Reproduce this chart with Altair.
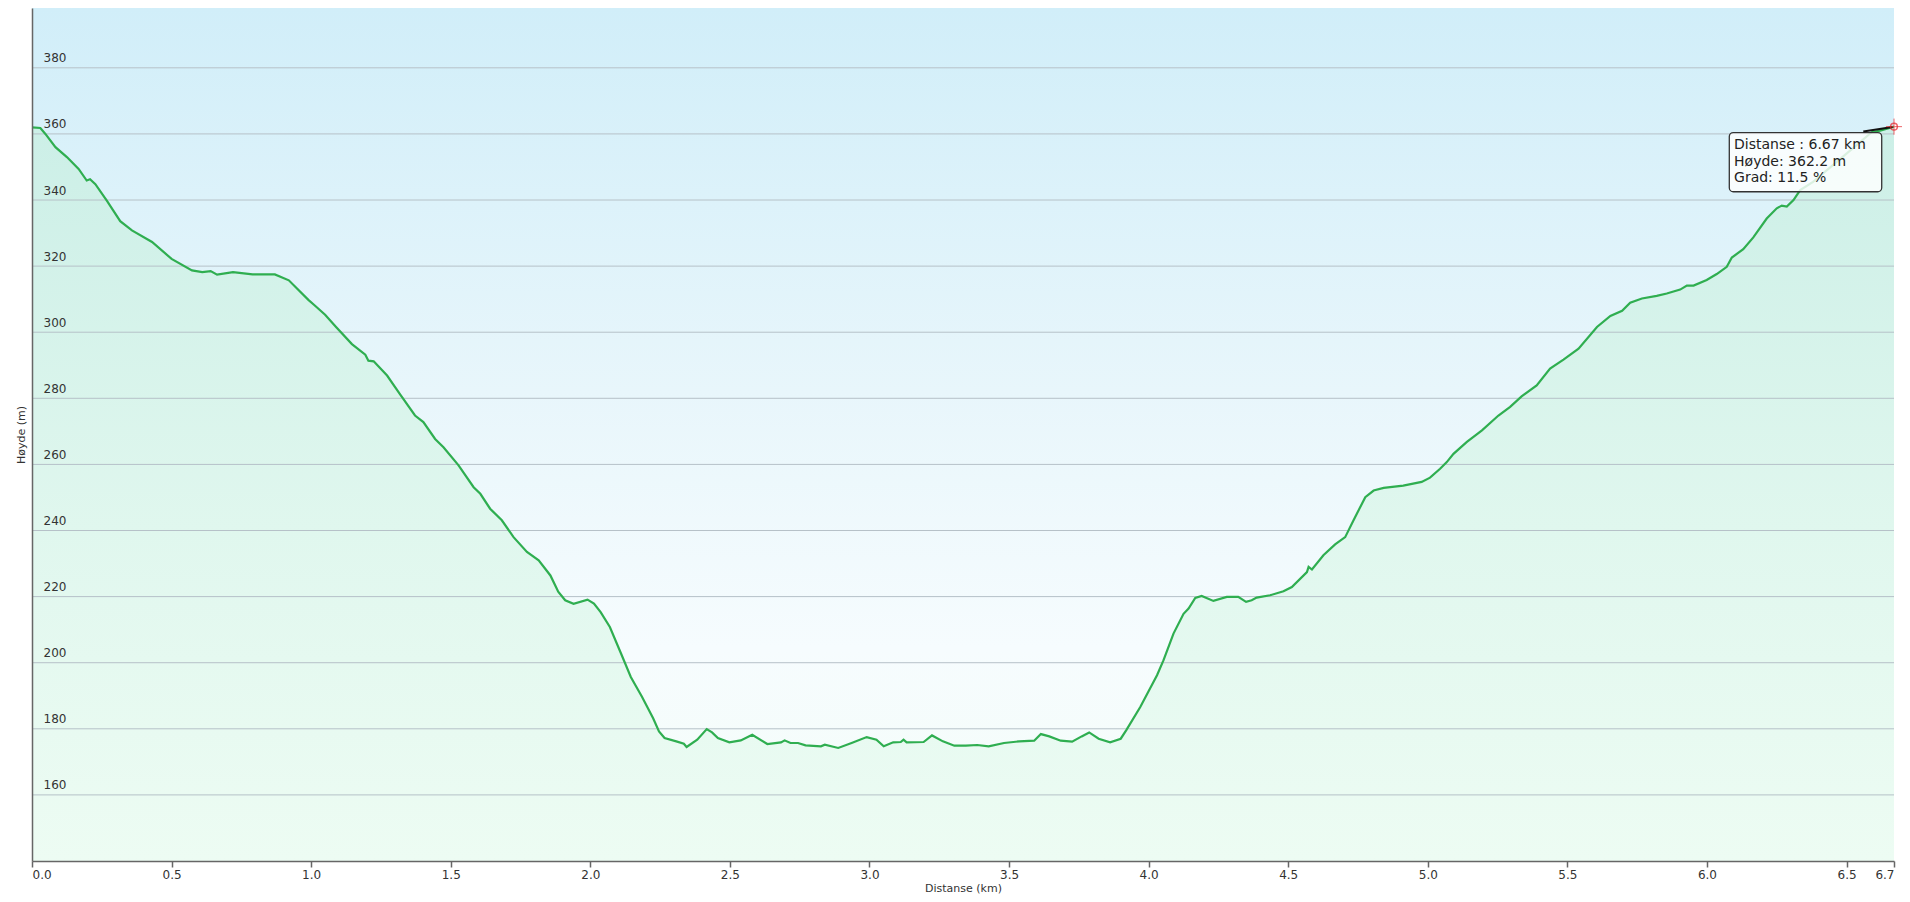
import altair as alt
import pandas as pd

# ---- data ----
distance_km = [
    0.00, 0.03, 0.048, 0.084, 0.125, 0.167, 0.196, 0.208, 0.227, 0.268, 0.316, 0.358, 0.43, 0.50,
    0.573, 0.61, 0.64, 0.663, 0.72, 0.79, 0.87, 0.92, 0.99, 1.01, 1.05, 1.09, 1.146, 1.194, 1.205,
    1.224, 1.272, 1.318, 1.372, 1.402, 1.444, 1.474, 1.528, 1.582, 1.606, 1.641, 1.683, 1.725,
    1.773, 1.815, 1.857, 1.880, 1.885, 1.91, 1.94, 1.99, 2.013, 2.037, 2.07, 2.11, 2.145, 2.185,
    2.225, 2.246, 2.266, 2.308, 2.335, 2.345, 2.383, 2.417, 2.436, 2.457, 2.498, 2.539, 2.58,
    2.634, 2.683, 2.696, 2.717, 2.744, 2.771, 2.826, 2.84, 2.888, 2.936, 2.99, 3.025, 3.051,
    3.085, 3.112, 3.122, 3.133, 3.194, 3.224, 3.263, 3.304, 3.345, 3.386, 3.427, 3.482, 3.536,
    3.59, 3.614, 3.644, 3.685, 3.726, 3.76, 3.787, 3.821, 3.862, 3.90, 3.92, 3.97, 4.03, 4.053,
    4.089, 4.125, 4.143, 4.167, 4.19, 4.232, 4.28, 4.321, 4.349, 4.369, 4.387, 4.435, 4.483,
    4.513, 4.567, 4.573, 4.585, 4.626, 4.668, 4.704, 4.734, 4.776, 4.806, 4.842, 4.912, 4.978,
    5.008, 5.044, 5.068, 5.092, 5.14, 5.194, 5.253, 5.295, 5.336, 5.39, 5.438, 5.486, 5.54,
    5.606, 5.654, 5.696, 5.725, 5.767, 5.82, 5.856, 5.904, 5.928, 5.952, 5.999, 6.035, 6.071,
    6.089, 6.13, 6.166, 6.214, 6.25, 6.268, 6.286, 6.31, 6.334, 6.38, 6.45, 6.52, 6.59, 6.62,
    6.67,
]
elevation_m = [
    362.0, 361.8, 360.0, 356.0, 353.0, 349.4, 345.9, 346.3, 344.8, 339.8, 333.6, 330.8, 327.3, 322.2,
    318.7, 318.2, 318.5, 317.4, 318.2, 317.5, 317.5, 315.7, 309.8, 308.3, 305.3, 301.5, 296.4, 293.2, 291.4,
    291.2, 286.9, 281.3, 274.8, 272.8, 267.7, 265.2, 259.7, 253.1, 251.1, 246.6, 243.1, 238.0,
    233.5, 231.0, 226.4, 222.4, 221.5, 218.9, 217.8, 219.1, 217.9, 215.3, 210.8, 202.8, 195.7, 189.7,
    183.2, 179.2, 177.2, 176.2, 175.5, 174.5, 176.7, 179.9, 178.9, 177.2, 175.9, 176.5, 178.2,
    175.4, 175.9, 176.5, 175.7, 175.7, 175.0, 174.7, 175.2, 174.2, 175.7, 177.5, 176.7, 174.7,
    175.9, 176.0, 176.7, 175.9, 176.0, 178.0, 176.2, 174.9, 174.9, 175.1, 174.7, 175.7, 176.2,
    176.4, 178.4, 177.7, 176.4, 176.1, 177.7, 178.9, 177.0, 175.9, 177.0, 179.6, 186.6, 196.2, 200.7,
    208.8, 214.8, 216.4, 219.6, 220.2, 218.7, 219.9, 219.9, 218.4, 218.9, 219.7, 220.4, 221.6,
    222.9, 227.4, 229.0, 228.2, 232.5, 235.8, 238.0, 243.1, 250.1, 252.1, 252.9, 253.6, 254.7,
    256.0, 258.7, 260.7, 263.2, 266.8, 270.3, 274.8, 277.4, 280.6, 283.9, 289.0, 291.7, 295.0,
    301.6, 304.9, 306.5, 308.9, 310.2, 311.0, 311.7, 312.9, 314.1, 314.1, 315.8, 317.6, 319.8,
    322.6, 325.1, 328.7, 334.4, 337.5, 338.3, 338.0, 340.0, 343.0, 345.5, 350.5, 355.5, 360.5, 361.0,
    362.2,
]

x_tick_values = [0.0, 0.5, 1.0, 1.5, 2.0, 2.5, 3.0, 3.5, 4.0, 4.5, 5.0, 5.5, 6.0, 6.5, 6.67]
y_grid_values = [160, 180, 200, 220, 240, 260, 280, 300, 320, 340, 360, 380]
x_domain = [0, 6.67]
y_domain = [140, 398.1]

tooltip_lines = ["Distanse : 6.67 km", "Høyde: 362.2 m", "Grad: 11.5 %"]
tooltip_line_elev = [356.7, 351.6, 346.6]
tooltip_text_km = [6.097, 6.097, 6.097]
tooltip_box_km = [6.08, 6.626]
tooltip_box_elev = [360.4, 342.5]
pointer_km = [6.56, 6.665]
pointer_elev = [360.7, 362.1]
end_km = [6.67]
end_elev = [362.2]

W, H = 1862, 853
FONT = "DejaVu Sans"

profile = pd.DataFrame({"km": distance_km, "m": elevation_m})
xs = alt.Scale(domain=x_domain, nice=False, zero=False)
ys = alt.Scale(domain=y_domain, nice=False, zero=False)

bg_grad = alt.Gradient(
    gradient="linear", x1=0, x2=0, y1=0, y2=1,
    stops=[alt.GradientStop(color="#d1eef9", offset=0),
           alt.GradientStop(color="#e8f6fb", offset=0.45),
           alt.GradientStop(color="#f6fcfe", offset=0.75),
           alt.GradientStop(color="#f4fdf8", offset=1)],
)
area_grad = alt.Gradient(
    gradient="linear", x1=0, x2=0, y1=0, y2=1,
    stops=[alt.GradientStop(color="#ccefe7", offset=0),
           alt.GradientStop(color="#e0f7ee", offset=0.55),
           alt.GradientStop(color="#edfcf3", offset=1)],
)

x_axis = alt.Axis(
    values=x_tick_values, labelExpr="format(datum.value, '.1f')", grid=False,
    domainColor="#666666", domainWidth=1.5, tickColor="#666666", tickWidth=1.5,
    tickSize=6, labelPadding=2, labelFlush=True, labelFont=FONT, labelFontSize=12,
    labelColor="#333333", titleFont=FONT, titleFontSize=11, titleFontWeight="normal",
    titleColor="#333333", titleY=30, titleBaseline="alphabetic", zindex=1,
)
y_axis = alt.Axis(
    values=y_grid_values, grid=False, ticks=False, tickSize=0,
    domainColor="#666666", domainWidth=1.5,
    labelAlign="left", labelBaseline="bottom", labelPadding=-11, labelOffset=-3,
    labelFont=FONT, labelFontSize=12, labelColor="#333333",
    titleFont=FONT, titleFontSize=11, titleFontWeight="normal", titleColor="#333333",
    titleX=-11, titleY=H / 2, titleAlign="center", titleBaseline="middle", zindex=1,
)

one = pd.DataFrame({"a": [0]})
background = alt.Chart(one).mark_rect(fill=bg_grad).encode(
    x=alt.value(0), x2=alt.value(W), y=alt.value(0), y2=alt.value(H)
)

area = alt.Chart(profile).mark_area(fill=area_grad, opacity=1, clip=True).encode(
    x=alt.X("km:Q", scale=xs, title="Distanse  (km)", axis=x_axis),
    y=alt.Y("m:Q", scale=ys, title="Høyde (m)", axis=y_axis),
    y2=alt.datum(y_domain[0]),
)

grid = alt.Chart(pd.DataFrame({"m": y_grid_values})).mark_rule(
    color="#b6c1c8", strokeWidth=1
).encode(y=alt.Y("m:Q", scale=ys))

line = alt.Chart(profile).mark_line(color="#2fae50", strokeWidth=2.2).encode(
    x=alt.X("km:Q", scale=xs), y=alt.Y("m:Q", scale=ys)
)

box = alt.Chart(pd.DataFrame({
    "km": [tooltip_box_km[0]], "km2": [tooltip_box_km[1]],
    "m": [tooltip_box_elev[0]], "m2": [tooltip_box_elev[1]],
})).mark_rect(
    cornerRadius=4, fill="#ffffff", fillOpacity=0.82, stroke="#333333", strokeWidth=1.3
).encode(
    x=alt.X("km:Q", scale=xs), x2="km2:Q",
    y=alt.Y("m:Q", scale=ys), y2="m2:Q",
)

pointer = alt.Chart(pd.DataFrame({"km": pointer_km, "m": pointer_elev})).mark_line(
    color="#111111", strokeWidth=2
).encode(x=alt.X("km:Q", scale=xs), y=alt.Y("m:Q", scale=ys))

end_df = pd.DataFrame({"km": end_km, "m": end_elev})
marker_cross = alt.Chart(end_df).mark_point(
    shape="M-1,0L1,0M0,-1L0,1", size=260, filled=False, color="#e8262c", strokeWidth=1
).encode(x=alt.X("km:Q", scale=xs), y=alt.Y("m:Q", scale=ys))
marker_ring = alt.Chart(end_df).mark_point(
    shape="circle", size=45, filled=False, color="#e8262c", strokeWidth=1.5
).encode(x=alt.X("km:Q", scale=xs), y=alt.Y("m:Q", scale=ys))

texts = alt.Chart(pd.DataFrame({
    "km": tooltip_text_km, "m": tooltip_line_elev, "t": tooltip_lines,
})).mark_text(
    align="left", baseline="middle", font=FONT, fontSize=14, color="#222222"
).encode(
    x=alt.X("km:Q", scale=xs), y=alt.Y("m:Q", scale=ys), text="t:N"
)

chart = alt.layer(
    background, area, grid, line, box, pointer, marker_ring, marker_cross, texts
).properties(
    width=W, height=H,
    autosize=alt.AutoSizeParams(type="none"),
    padding={"left": 24, "top": 0, "right": 8, "bottom": 33},
).configure_view(stroke=None)

chart.save("out.html", embed_options={"renderer": "svg", "actions": False})
